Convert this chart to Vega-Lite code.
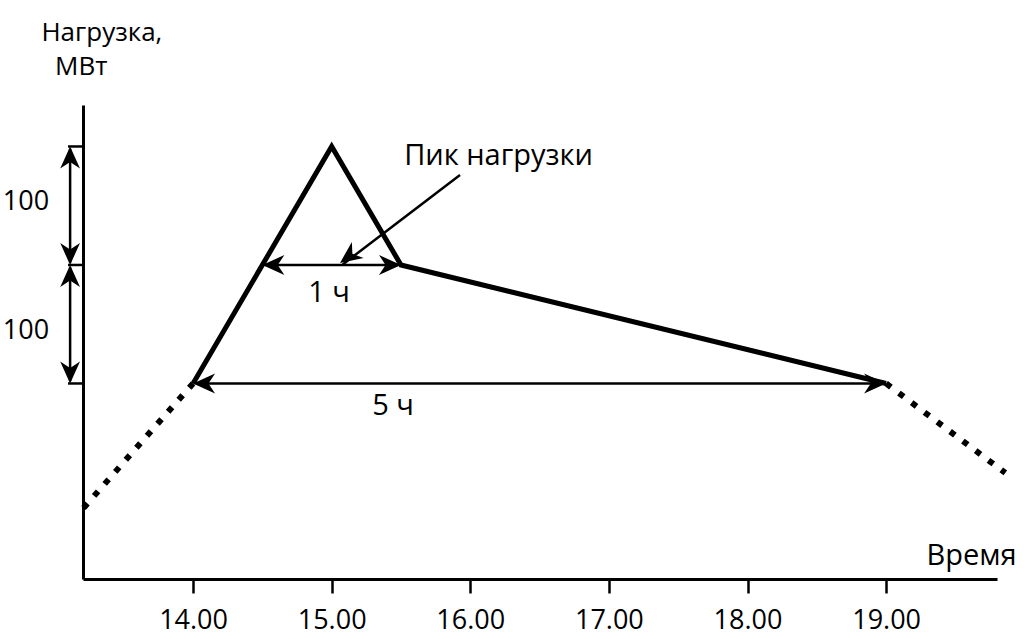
{
  "$schema": "https://vega.github.io/schema/vega-lite/v6.json",
  "width": 914,
  "height": 474,
  "autosize": {"type": "none"},
  "padding": {"left": 83, "top": 105, "right": 31, "bottom": 60},
  "background": "white",
  "config": {"view": {"stroke": null}},
  "datasets": {
    "load": [
      {"t": 14.0, "mw": 165},
      {"t": 15.0, "mw": 365},
      {"t": 15.5, "mw": 265},
      {"t": 19.0, "mw": 165}
    ],
    "dotted": [
      {"seg": "before", "t": 13.21, "mw": 60},
      {"seg": "before", "t": 14.0, "mw": 165},
      {"seg": "after", "t": 19.0, "mw": 165},
      {"seg": "after", "t": 19.86, "mw": 89.5}
    ],
    "shafts": [
      {"name": "1 ч", "t1": 14.52, "m1": 265, "t2": 15.48, "m2": 265},
      {"name": "5 ч", "t1": 14.02, "m1": 165, "t2": 18.98, "m2": 165},
      {"name": "100 upper", "t1": 13.113, "m1": 363, "t2": 13.113, "m2": 267},
      {"name": "100 lower", "t1": 13.113, "m1": 263, "t2": 13.113, "m2": 167},
      {"name": "pointer", "t1": 15.926, "m1": 341, "t2": 15.08, "m2": 265.5}
    ],
    "brackets": [
      {"t1": 13.098, "t2": 13.206, "mw": 165},
      {"t1": 13.098, "t2": 13.206, "mw": 265},
      {"t1": 13.098, "t2": 13.206, "mw": 365}
    ],
    "heads": [
      {"t": 14.5, "mw": 265, "dir": 180},
      {"t": 15.5, "mw": 265, "dir": 0},
      {"t": 14.0, "mw": 165, "dir": 180},
      {"t": 19.0, "mw": 165, "dir": 0},
      {"t": 13.113, "mw": 365, "dir": 270},
      {"t": 13.113, "mw": 265, "dir": 90},
      {"t": 13.113, "mw": 265, "dir": 270},
      {"t": 13.113, "mw": 165, "dir": 90},
      {"t": 15.06, "mw": 266.7, "dir": 143.7}
    ],
    "title": [
      {"text": "Нагрузка,", "t": 12.906, "mw": 454},
      {"text": "МВт", "t": 13.004, "mw": 425}
    ],
    "scaleLabels": [
      {"text": "100", "t": 12.795, "mw": 311.4},
      {"text": "100", "t": 12.795, "mw": 202.5}
    ],
    "labels": [
      {"text": "Пик нагрузки", "t": 16.204, "mw": 349.4},
      {"text": "1 ч", "t": 14.981, "mw": 233.8},
      {"text": "5 ч", "t": 15.443, "mw": 138.4},
      {"text": "Время", "t": 19.617, "mw": 11.8}
    ]
  },
  "layer": [
    {
      "data": {"name": "load"},
      "mark": {"type": "line", "color": "black", "strokeWidth": 5, "strokeJoin": "miter", "strokeCap": "butt"},
      "encoding": {
        "x": {
          "field": "t", "type": "quantitative",
          "scale": {"domain": [13.206, 19.8], "nice": false, "zero": false},
          "axis": {
            "values": [14, 15, 16, 17, 18, 19], "format": ".2f", "title": null, "grid": false,
            "domainColor": "black", "domainWidth": 3, "tickColor": "black", "tickWidth": 2.5, "tickSize": 14,
            "labelFont": "Open Sans", "labelFontSize": 27, "labelColor": "black", "labelPadding": 14
          }
        },
        "y": {
          "field": "mw", "type": "quantitative",
          "scale": {"domain": [0, 400], "nice": false, "zero": false},
          "axis": {"labels": false, "ticks": false, "title": null, "grid": false, "domainColor": "black", "domainWidth": 3}
        }
      }
    },
    {
      "data": {"name": "dotted"},
      "mark": {"type": "line", "color": "black", "strokeWidth": 6, "strokeDash": [6, 10], "strokeCap": "butt"},
      "encoding": {
        "x": {"field": "t", "type": "quantitative"},
        "y": {"field": "mw", "type": "quantitative"},
        "detail": {"field": "seg", "type": "nominal"}
      }
    },
    {
      "data": {"name": "shafts"},
      "mark": {"type": "rule", "color": "black", "strokeWidth": 2.5},
      "encoding": {
        "x": {"field": "t1", "type": "quantitative"},
        "x2": {"field": "t2"},
        "y": {"field": "m1", "type": "quantitative"},
        "y2": {"field": "m2"}
      }
    },
    {
      "data": {"name": "brackets"},
      "mark": {"type": "rule", "color": "black", "strokeWidth": 2.5},
      "encoding": {
        "x": {"field": "t1", "type": "quantitative"},
        "x2": {"field": "t2"},
        "y": {"field": "mw", "type": "quantitative"}
      }
    },
    {
      "data": {"name": "heads"},
      "mark": {"type": "point", "filled": true, "color": "black", "opacity": 1, "strokeWidth": 0,
               "shape": "M0,0 L-2,-0.9 L-1.4,0 L-2,0.9 Z", "size": 484},
      "encoding": {
        "x": {"field": "t", "type": "quantitative"},
        "y": {"field": "mw", "type": "quantitative"},
        "angle": {"field": "dir", "type": "quantitative", "scale": null}
      }
    },
    {
      "data": {"name": "title"},
      "mark": {"type": "text", "font": "Open Sans", "fontSize": 26, "color": "black", "align": "left", "baseline": "alphabetic"},
      "encoding": {
        "x": {"field": "t", "type": "quantitative"},
        "y": {"field": "mw", "type": "quantitative"},
        "text": {"field": "text"}
      }
    },
    {
      "data": {"name": "scaleLabels"},
      "mark": {"type": "text", "font": "Open Sans", "fontSize": 27, "color": "black", "align": "center", "baseline": "alphabetic"},
      "encoding": {
        "x": {"field": "t", "type": "quantitative"},
        "y": {"field": "mw", "type": "quantitative"},
        "text": {"field": "text"}
      }
    },
    {
      "data": {"name": "labels"},
      "mark": {"type": "text", "font": "Open Sans", "fontSize": 29, "color": "black", "align": "center", "baseline": "alphabetic"},
      "encoding": {
        "x": {"field": "t", "type": "quantitative"},
        "y": {"field": "mw", "type": "quantitative"},
        "text": {"field": "text"}
      }
    }
  ]
}
